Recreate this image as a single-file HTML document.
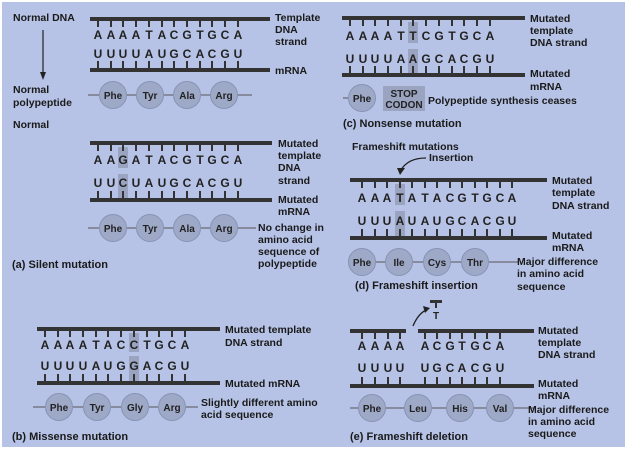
<!DOCTYPE html>
<html><head><meta charset="utf-8"><style>
html,body{margin:0;padding:0;background:#fff;}
svg{display:block;}
text{font-family:"Liberation Sans",sans-serif;font-weight:bold;fill:#1a1a1a;}
.lab{font-size:10.5px;}
.nt{font-size:12px;text-anchor:middle;fill:#222;}
.aa{font-size:10px;text-anchor:middle;fill:#222;}
.ttl{font-size:11px;}
</style></head><body>
<svg id="s" width="628" height="450" viewBox="0 0 628 450" xmlns="http://www.w3.org/2000/svg">
<rect x="2" y="2" width="623" height="445" fill="#b6c3e6"/>
<g id="hl" fill="#9aa3c0"></g>
<g id="lines" stroke="#333" fill="none"></g>
<g id="circ"></g>

<!-- Normal -->
<text class="lab" x="13" y="21">Normal DNA</text>
<line x1="43" y1="30" x2="43" y2="74" stroke="#222" stroke-width="1.2"/>
<path d="M40,72 L46,72 L43,80 Z" fill="#222"/>
<text class="lab" x="13" y="93">Normal</text>
<text class="lab" x="13" y="106">polypeptide</text>
<text class="lab" x="13" y="128">Normal</text>
<text class="nt" x="98 111 123 136 149 162 174 187 200 212 225 238" y="39">AAAATACGTGCA</text>
<text class="nt" x="98 111 123 136 149 162 174 187 200 212 225 238" y="58">UUUUAUGCACGU</text>
<text class="lab" x="275" y="21">Template</text>
<text class="lab" x="275" y="33">DNA</text>
<text class="lab" x="275" y="45">strand</text>
<text class="lab" x="275" y="74">mRNA</text>

<!-- (a) -->
<text class="nt" x="98 111 123 136 149 162 174 187 200 212 225 238" y="164">AAGATACGTGCA</text>
<text class="nt" x="98 111 123 136 149 162 174 187 200 212 225 238" y="187">UUCUAUGCACGU</text>
<text class="lab" x="278" y="147">Mutated</text>
<text class="lab" x="278" y="159">template</text>
<text class="lab" x="278" y="171">DNA</text>
<text class="lab" x="278" y="184">strand</text>
<text class="lab" x="278" y="203">Mutated</text>
<text class="lab" x="278" y="215">mRNA</text>
<text class="lab" x="258" y="231">No change in</text>
<text class="lab" x="258" y="243">amino acid</text>
<text class="lab" x="258" y="255">sequence of</text>
<text class="lab" x="258" y="267">polypeptide</text>
<text class="ttl" x="12" y="268">(a) Silent mutation</text>

<!-- (b) -->
<text class="nt" x="45 58 70 83 96 108 121 134 147 159 172 185" y="349">AAAATACCTGCA</text>
<text class="nt" x="45 58 70 83 96 108 121 134 147 159 172 185" y="370">UUUUAUGGACGU</text>
<text class="lab" x="225" y="333">Mutated template</text>
<text class="lab" x="225" y="346">DNA strand</text>
<text class="lab" x="225" y="387">Mutated mRNA</text>
<text class="lab" x="201" y="406">Slightly different amino</text>
<text class="lab" x="201" y="418">acid sequence</text>
<text class="ttl" x="12" y="440">(b) Missense mutation</text>

<!-- (c) -->
<text class="nt" x="350 363 375 388 401 413 426 439 452 464 477 490" y="40">AAAATTCGTGCA</text>
<text class="nt" x="350 363 375 388 401 413 426 439 452 464 477 490" y="63">UUUUAAGCACGU</text>
<text class="lab" x="530" y="22">Mutated</text>
<text class="lab" x="530" y="34">template</text>
<text class="lab" x="530" y="46">DNA strand</text>
<text class="lab" x="530" y="77">Mutated</text>
<text class="lab" x="530" y="90">mRNA</text>
<rect x="383" y="86" width="42" height="25" fill="#9aa3c0"/>
<text class="aa" x="404" y="97">STOP</text>
<text class="aa" x="404" y="108">CODON</text>
<text class="lab" x="428" y="104">Polypeptide synthesis ceases</text>
<text class="ttl" x="343" y="127">(c) Nonsense mutation</text>

<!-- (d) -->
<text class="lab" x="352" y="150">Frameshift mutations</text>
<text class="lab" x="429" y="161">Insertion</text>
<path d="M426,158 Q408,158 401,170" stroke="#222" stroke-width="1.3" fill="none"/>
<path d="M397,168 L405,168 L400,175 Z" fill="#222"/>
<text class="nt" x="362 375 387 400 412 425 437 450 462 475 487 500 512" y="202">AAATATACGTGCA</text>
<text class="nt" x="362 375 387 400 412 425 437 450 462 475 487 500 512" y="225">UUUAUAUGCACGU</text>
<text class="lab" x="552" y="184">Mutated</text>
<text class="lab" x="552" y="196">template</text>
<text class="lab" x="552" y="209">DNA strand</text>
<text class="lab" x="552" y="239">Mutated</text>
<text class="lab" x="552" y="251">mRNA</text>
<text class="lab" x="517" y="265">Major difference</text>
<text class="lab" x="517" y="277">in amino acid</text>
<text class="lab" x="517" y="290">sequence</text>
<text class="ttl" x="355" y="289">(d) Frameshift insertion</text>

<!-- (e) -->
<rect x="430" y="300" width="12" height="3" fill="#333"/>
<rect x="435" y="300" width="2" height="8" fill="#333"/>
<text class="aa" x="436" y="319">T</text>
<path d="M413,326 Q418,314 426,310" stroke="#222" stroke-width="1.3" fill="none"/>
<path d="M423,306 L430,308 L425,313 Z" fill="#222"/>
<text class="nt" x="362 375 388 400 425 437 450 462 475 487 500" y="350">AAAAACGTGCA</text>
<text class="nt" x="362 375 388 400 425 437 450 462 475 487 500" y="372">UUUUUGCACGU</text>
<text class="lab" x="538" y="334">Mutated</text>
<text class="lab" x="538" y="346">template</text>
<text class="lab" x="538" y="358">DNA strand</text>
<text class="lab" x="538" y="387">Mutated</text>
<text class="lab" x="538" y="399">mRNA</text>
<text class="lab" x="528" y="413">Major difference</text>
<text class="lab" x="528" y="425">in amino acid</text>
<text class="lab" x="528" y="437">sequence</text>
<text class="ttl" x="350" y="440">(e) Frameshift deletion</text>

<text class="aa" x="113" y="99">Phe</text><text class="aa" x="150" y="99">Tyr</text><text class="aa" x="187" y="99">Ala</text><text class="aa" x="224" y="99">Arg</text>
<text class="aa" x="113" y="232">Phe</text><text class="aa" x="150" y="232">Tyr</text><text class="aa" x="187" y="232">Ala</text><text class="aa" x="224" y="232">Arg</text>
<text class="aa" x="59" y="411">Phe</text><text class="aa" x="97" y="411">Tyr</text><text class="aa" x="135" y="411">Gly</text><text class="aa" x="172" y="411">Arg</text>
<text class="aa" x="362" y="102">Phe</text>
<text class="aa" x="362" y="266">Phe</text><text class="aa" x="399" y="266">Ile</text><text class="aa" x="437" y="266">Cys</text><text class="aa" x="475" y="266">Thr</text>
<text class="aa" x="372" y="412">Phe</text><text class="aa" x="418" y="412">Leu</text><text class="aa" x="460" y="412">His</text><text class="aa" x="500" y="412">Val</text>
</svg>
<script>
var NS="http://www.w3.org/2000/svg",L=document.getElementById('lines'),H=document.getElementById('hl'),C=document.getElementById('circ');
function el(p,t,a){var e=document.createElementNS(NS,t);for(var k in a)e.setAttribute(k,a[k]);p.appendChild(e);return e;}
function bar(x0,x1,y){el(L,'line',{x1:x0,y1:y,x2:x1,y2:y,'stroke-width':4});}
function ticks(xs,y0,y1){xs.forEach(function(x){el(L,'line',{x1:x,y1:y0,x2:x,y2:y1,'stroke-width':2});});}
function T(xs,y){bar(0,0,0);ticks(xs,y,y+8);}
function M(xs,y){ticks(xs,y-9,y);}
function hl(x,y,h){el(H,'rect',{x:x-5,y:y,width:10,height:h});}
function pep(x0,x1,y,cs){el(L,'line',{x1:x0,y1:y,x2:x1,y2:y,'stroke-width':1,stroke:'#555'});cs.forEach(function(x){el(C,'circle',{cx:x,cy:y,r:13.5,fill:'#9ea9c8',stroke:'#8793b4','stroke-width':1});});}
var N=[98,111,123,136,149,162,174,187,200,212,225,238];
bar(90,270,19);ticks(N,19,27);bar(90,270,70);M(N,70);pep(88,252,95,[113,150,187,224]);
hl(123,147,21);hl(123,174,24);
bar(90,272,143);ticks(N,143,151);bar(90,272,200);M(N,200);pep(88,256,228,[113,150,187,224]);
var B=[45,58,70,83,96,108,121,134,147,159,172,185];
hl(134,333,19);hl(134,356,26);
bar(37,220,329);ticks(B,329,337);bar(37,220,383);M(B,383);pep(33,198,407,[59,97,135,172]);
var Cx=[350,363,375,388,401,413,426,439,452,464,477,490];
hl(413,22,21);hl(413,49,26);
bar(342,525,18);ticks(Cx,18,26);bar(342,525,75);M(Cx,75);pep(343,362,98,[362]);
var D=[362,375,387,400,412,425,437,450,462,475,487,500,512];
hl(400,184,21);hl(400,211,26);
bar(350,547,180);ticks(D,180,188);bar(350,547,238);M(D,238);pep(350,518,262,[362,399,437,475]);
var E=[362,375,388,400,425,437,450,462,475,487,500];
bar(350,406,331);bar(418,534,331);ticks(E,331,339);bar(350,534,386);M(E,386);pep(350,534,408,[372,418,460,500]);
</script>
</body></html>
